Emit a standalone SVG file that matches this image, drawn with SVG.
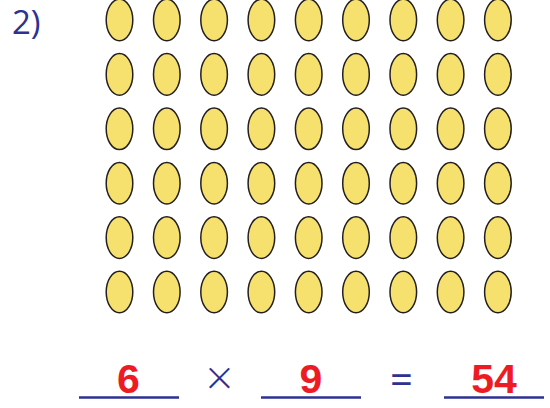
<svg xmlns="http://www.w3.org/2000/svg" width="550" height="408" viewBox="0 0 550 408">
<style>
.e{fill:#f6e06e;stroke:#231f20;stroke-width:1.5}
.blue{fill:#2e3192;font-family:"Open Sans","Liberation Sans",sans-serif}
.red{fill:#ed1c24;font-family:"Liberation Sans",Arial,sans-serif;font-weight:bold;font-size:41px;text-anchor:middle}
.ln{stroke:#2e3192;stroke-width:2.5}
</style>
<rect width="550" height="408" fill="#fff"/>
<text class="blue" x="12" y="34" font-size="33">2)</text>
<defs><ellipse id="o" class="e" rx="13.3" ry="20.8"/></defs>
<g id="grid">
<g id="r1"><use href="#o" x="119.5" y="20"/><use href="#o" x="166.8" y="20"/><use href="#o" x="214.1" y="20"/><use href="#o" x="261.4" y="20"/><use href="#o" x="308.7" y="20"/><use href="#o" x="356" y="20"/><use href="#o" x="403.3" y="20"/><use href="#o" x="450.6" y="20"/><use href="#o" x="497.9" y="20"/></g>
<g id="r2"><use href="#o" x="119.5" y="74.4"/><use href="#o" x="166.8" y="74.4"/><use href="#o" x="214.1" y="74.4"/><use href="#o" x="261.4" y="74.4"/><use href="#o" x="308.7" y="74.4"/><use href="#o" x="356" y="74.4"/><use href="#o" x="403.3" y="74.4"/><use href="#o" x="450.6" y="74.4"/><use href="#o" x="497.9" y="74.4"/></g>
<g id="r3"><use href="#o" x="119.5" y="128.8"/><use href="#o" x="166.8" y="128.8"/><use href="#o" x="214.1" y="128.8"/><use href="#o" x="261.4" y="128.8"/><use href="#o" x="308.7" y="128.8"/><use href="#o" x="356" y="128.8"/><use href="#o" x="403.3" y="128.8"/><use href="#o" x="450.6" y="128.8"/><use href="#o" x="497.9" y="128.8"/></g>
<g id="r4"><use href="#o" x="119.5" y="183.2"/><use href="#o" x="166.8" y="183.2"/><use href="#o" x="214.1" y="183.2"/><use href="#o" x="261.4" y="183.2"/><use href="#o" x="308.7" y="183.2"/><use href="#o" x="356" y="183.2"/><use href="#o" x="403.3" y="183.2"/><use href="#o" x="450.6" y="183.2"/><use href="#o" x="497.9" y="183.2"/></g>
<g id="r5"><use href="#o" x="119.5" y="237.6"/><use href="#o" x="166.8" y="237.6"/><use href="#o" x="214.1" y="237.6"/><use href="#o" x="261.4" y="237.6"/><use href="#o" x="308.7" y="237.6"/><use href="#o" x="356" y="237.6"/><use href="#o" x="403.3" y="237.6"/><use href="#o" x="450.6" y="237.6"/><use href="#o" x="497.9" y="237.6"/></g>
<g id="r6"><use href="#o" x="119.5" y="292"/><use href="#o" x="166.8" y="292"/><use href="#o" x="214.1" y="292"/><use href="#o" x="261.4" y="292"/><use href="#o" x="308.7" y="292"/><use href="#o" x="356" y="292"/><use href="#o" x="403.3" y="292"/><use href="#o" x="450.6" y="292"/><use href="#o" x="497.9" y="292"/></g>
</g>
<g id="equation">
<line class="ln" x1="79" y1="397.5" x2="179" y2="397.5"/>
<line class="ln" x1="261" y1="397.5" x2="361" y2="397.5"/>
<line class="ln" x1="444" y1="397.5" x2="544" y2="397.5"/>
<text class="red" x="128.5" y="392.5">6</text>
<text class="red" x="311" y="392.5">9</text>
<text class="red" x="494" y="392.5">54</text>
<text class="blue" x="219.5" y="395" font-size="48" font-weight="300" text-anchor="middle">×</text>
<text class="blue" x="401.5" y="394" font-size="40" text-anchor="middle">=</text>
</g>
</svg>
